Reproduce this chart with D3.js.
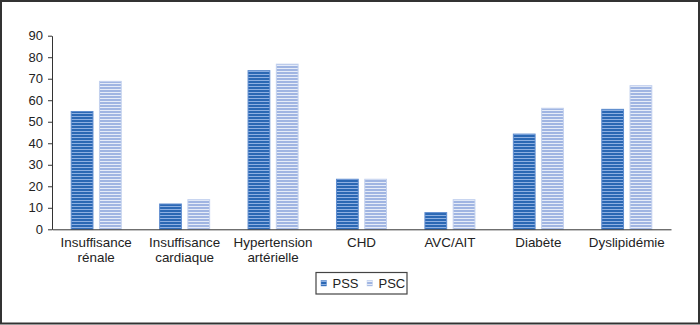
<!DOCTYPE html>
<html>
<head>
<meta charset="utf-8">
<script src="https://cdn.jsdelivr.net/npm/d3@7"></script>
<style>
  html, body { margin: 0; padding: 0; background: #fff; }
  svg { display: block; font-family: "Liberation Sans", Arial, Helvetica, sans-serif; }
</style>
</head>
<body>
<svg id="chart" width="700" height="325"></svg>
<script>
// Comorbidités par groupe (%)
const categories = [
  ["Insuffisance", "rénale"],
  ["Insuffisance", "cardiaque"],
  ["Hypertension", "artérielle"],
  ["CHD"],
  ["AVC/AIT"],
  ["Diabète"],
  ["Dyslipidémie"]
];
const seriesNames = ["PSS", "PSC"];
const pssValues = [55, 12, 74, 23.5, 8, 44.5, 56];
const pscValues = [69, 14, 77, 23.5, 14, 56.5, 67];
const yTicks = [0, 10, 20, 30, 40, 50, 60, 70, 80, 90];

const svg = d3.select("#chart");
const W = 700, H = 325;
const margin = { left: 52, right: 29, top: 35.7, bottom: 95.7 };
const plotRight = W - margin.right;
const plotBottom = H - margin.bottom;

// Outer frame
svg.append("rect")
  .attr("x", 1).attr("y", 1)
  .attr("width", W - 2).attr("height", H - 2.5)
  .attr("fill", "none").attr("stroke", "#333").attr("stroke-width", 2);

// Striped fills for the two series
const defs = svg.append("defs");
function stripes(id, base, line) {
  const p = defs.append("pattern")
    .attr("id", id).attr("patternUnits", "userSpaceOnUse")
    .attr("width", 6).attr("height", 3);
  p.append("rect").attr("width", 6).attr("height", 3).attr("fill", base);
  p.append("rect").attr("y", 2).attr("width", 6).attr("height", 1).attr("fill", line);
}
stripes("fill-pss", "#2b68b4", "#8eb0e2");
stripes("fill-psc", "#a0b5e2", "#e6ecf8");
const fills = { PSS: "url(#fill-pss)", PSC: "url(#fill-psc)" };
const strokes = { PSS: "#5f8dcf", PSC: "#c3d1ee" };

const labels = categories.map(c => c.join(" "));
const x0 = d3.scaleBand().domain(labels).range([margin.left, plotRight]).padding(0);
const groupPad = 18.7;
const x1 = d3.scaleBand().domain(seriesNames)
  .range([groupPad, x0.bandwidth() - groupPad]).paddingInner(0.195).paddingOuter(0);
const y = d3.scaleLinear().domain([0, 90]).range([plotBottom, margin.top]);

const rows = labels.map((l, i) => ({ label: l, PSS: pssValues[i], PSC: pscValues[i] }));

// Bars
const g = svg.append("g");
g.selectAll("g.grp").data(rows).join("g")
  .attr("class", "grp")
  .attr("transform", d => `translate(${x0(d.label)},0)`)
  .selectAll("rect")
  .data(d => seriesNames.map(s => ({ s, v: d[s] })))
  .join("rect")
  .attr("x", d => x1(d.s) + 0.5)
  .attr("y", d => y(d.v) + 0.5)
  .attr("width", x1.bandwidth() - 1)
  .attr("height", d => y(0) - y(d.v) - 0.5)
  .attr("fill", d => fills[d.s])
  .attr("stroke", d => strokes[d.s])
  .attr("stroke-width", 1);

// Y axis
const yAxis = svg.append("g")
  .attr("transform", `translate(${margin.left},0)`)
  .call(d3.axisLeft(y).tickValues(yTicks).tickSize(4).tickPadding(5).tickSizeOuter(0));
yAxis.select(".domain").attr("stroke", "#333");
yAxis.selectAll(".tick line").attr("stroke", "#333");
yAxis.selectAll(".tick text").attr("fill", "#222").style("font-size", "13px")
  .style("font-family", "'Liberation Sans', Arial, sans-serif");

// X axis baseline
const xAxis = svg.append("g")
  .attr("transform", `translate(0,${plotBottom})`)
  .call(d3.axisBottom(x0).tickSize(0).tickSizeOuter(0).tickFormat(""));
xAxis.select(".domain").attr("stroke", "#333");

// Category labels (two lines where needed)
const catText = svg.append("g").selectAll("text").data(categories).join("text")
  .attr("x", (d, i) => x0(labels[i]) + x0.bandwidth() / 2)
  .attr("y", plotBottom + 17.5)
  .attr("text-anchor", "middle")
  .attr("fill", "#222")
  .style("font-size", "13.4px");
catText.selectAll("tspan").data(d => d).join("tspan")
  .attr("x", function () { return d3.select(this.parentNode).attr("x"); })
  .attr("dy", (d, i) => i === 0 ? 0 : 15)
  .text(d => d);

// Legend
const legend = svg.append("g");
legend.append("rect")
  .attr("x", 316).attr("y", 272.5).attr("width", 91).attr("height", 21.5)
  .attr("fill", "#fff").attr("stroke", "#444").attr("stroke-width", 1.2);
const legendX = [321, 367];
seriesNames.forEach((s, i) => {
  legend.append("rect")
    .attr("x", legendX[i]).attr("y", 280.5).attr("width", 5.5).attr("height", 5.5)
    .attr("fill", fills[s]).attr("stroke", strokes[s]).attr("stroke-width", 0.5);
  legend.append("text")
    .attr("x", legendX[i] + 11.5).attr("y", 288)
    .attr("fill", "#222").style("font-size", "13px")
    .text(s);
});
</script>
</body>
</html>
